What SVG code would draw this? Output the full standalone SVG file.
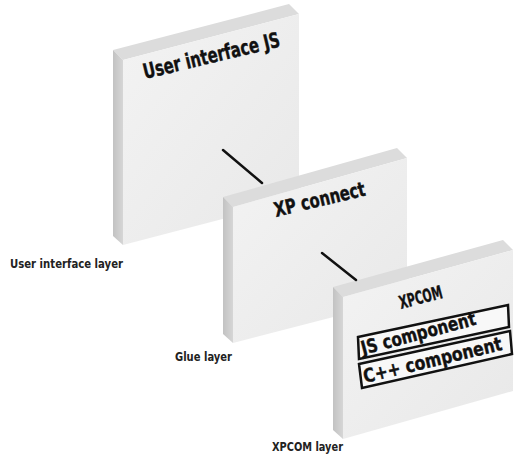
<svg xmlns="http://www.w3.org/2000/svg" width="518" height="462" viewBox="0 0 518 462">
  <defs>
    <linearGradient id="faceGrad" x1="0" y1="0" x2="1" y2="1">
      <stop offset="0" stop-color="#f3f3f3"/>
      <stop offset="1" stop-color="#e8e8e8"/>
    </linearGradient>
    <linearGradient id="sideGrad" x1="0" y1="0" x2="1" y2="0">
      <stop offset="0" stop-color="#c2c2c2"/>
      <stop offset="1" stop-color="#d6d6d6"/>
    </linearGradient>
  </defs>
  <style>
    .face { fill: url(#faceGrad); }
    .top { fill: #dcdcdc; }
    .side { fill: url(#sideGrad); }
    .title { font-family: "Liberation Sans Narrow", "DejaVu Sans Condensed", "Liberation Sans", sans-serif; font-weight: bold; font-stretch: condensed; fill: #111; stroke: #111; stroke-width: 0.4; }
    .label { font-family: "Liberation Sans Narrow", "DejaVu Sans Condensed", "Liberation Sans", sans-serif; font-weight: bold; font-stretch: condensed; font-size: 13px; fill: #222; }
    .box { fill: #f8f8f8; stroke: #111; stroke-width: 2.5; stroke-linejoin: miter; }
    .link { stroke: #111; stroke-width: 2.5; stroke-linecap: round; fill: none; }
  </style>

  <rect width="518" height="462" fill="#ffffff"/>

  <!-- User interface layer slab -->
  <g id="ui-js">
    <polygon class="top" points="113,50 289,4 299,14 123,60"/>
    <polygon class="side" points="113,50 123,60 123,245 113,236"/>
    <polygon class="face" points="123,60 299,14 299,199 123,245"/>
    <text class="title" font-size="21" transform="translate(145,79) rotate(-13.5)" textLength="140" lengthAdjust="spacingAndGlyphs">User interface JS</text>
  </g>
  <text id="label-ui" class="label" x="10" y="268" textLength="113" lengthAdjust="spacingAndGlyphs">User interface layer</text>

  <!-- Glue layer slab -->
  <g id="xp-connect">
    <polygon class="top" points="223,197 397,148 407,158 233,207"/>
    <polygon class="side" points="223,197 233,207 233,343 223,334"/>
    <polygon class="face" points="233,207 407,158 407,298 233,343"/>
    <text class="title" font-size="20" transform="translate(276,217) rotate(-13.5)" textLength="93" lengthAdjust="spacingAndGlyphs">XP connect</text>
  </g>
  <text id="label-glue" class="label" x="175" y="361" textLength="57" lengthAdjust="spacingAndGlyphs">Glue layer</text>

  <!-- XPCOM layer slab -->
  <g id="xpcom">
    <polygon class="top" points="333,287 503,240 513,250 343,297"/>
    <polygon class="side" points="333,287 343,297 343,439 333,430"/>
    <polygon class="face" points="343,297 513,250 513,391 343,439"/>
    <text class="title" font-size="18" transform="translate(401,309) rotate(-15)" textLength="44" lengthAdjust="spacingAndGlyphs">XPCOM</text>
    <g id="js-component">
      <polygon class="box" points="358,337 508,305 509,327 359,359"/>
      <text class="title" font-size="19" transform="translate(363,355) rotate(-15)" textLength="118" lengthAdjust="spacingAndGlyphs">JS component</text>
    </g>
    <g id="cpp-component">
      <polygon class="box" points="359,364 510,331 512,354 362,388"/>
      <text class="title" font-size="19" transform="translate(365,383) rotate(-13.5)" textLength="142" lengthAdjust="spacingAndGlyphs">C++ component</text>
    </g>
  </g>
  <text id="label-xpcom" class="label" x="272" y="451" textLength="71" lengthAdjust="spacingAndGlyphs">XPCOM layer</text>

  <!-- connectors between layers -->
  <g id="connectors">
    <line class="link" x1="223" y1="150" x2="262" y2="183"/>
    <line class="link" x1="322" y1="253" x2="356" y2="280"/>
  </g>
</svg>
